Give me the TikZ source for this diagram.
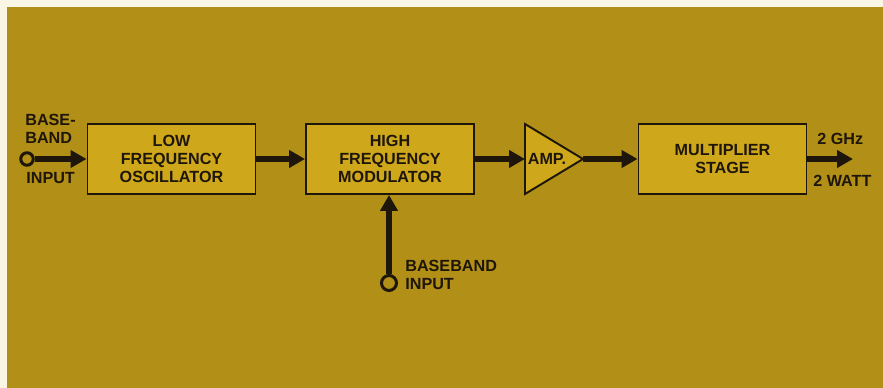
\documentclass[tikz,border=0pt]{standalone}
\usepackage{fontspec}
\setmainfont{Liberation Sans}
\usetikzlibrary{positioning, arrows.meta, calc}
\definecolor{paper}{RGB}{250,246,228}
\definecolor{olive}{RGB}{178,143,22}
\definecolor{boxfill}{RGB}{206,167,26}
\definecolor{ink}{RGB}{30,22,10}
\tikzset{
  stage/.style ={rectangle, draw=ink, line width=1.1pt, fill=boxfill,
                 minimum width=3.36cm, minimum height=1.4cm, inner sep=0pt,
                 font=\fontsize{9.2}{10}\selectfont\bfseries, text=ink, align=center},
  sig/.style   ={-{Triangle[length=0.32cm, width=0.34cm]}, line width=3pt, color=ink},
  port/.style  ={circle, draw=ink, line width=1.7pt, fill=olive,
                 minimum size=0.25cm, inner sep=0pt},
  lbl/.style   ={font=\fontsize{9.2}{10}\selectfont\bfseries, text=ink,
                 align=left, inner sep=0pt},
}
\begin{document}
\begin{tikzpicture}[x=0.02cm, y=0.02cm]
\fill[paper] (0,0) rectangle (883,388);
\fill[olive] (7,0) rectangle (883,381);
% blocks
\node[stage] (lfo) at (171.5,229) {LOW\\FREQUENCY\\OSCILLATOR};
\node[stage] (hfm) at (390,229) {HIGH\\FREQUENCY\\MODULATOR};
\draw[ink, line width=1.1pt, fill=boxfill] (525,264) -- (583,229) -- (525,194) -- cycle;
\coordinate (ampin) at (525,229);
\coordinate (ampout) at (583,229);
\node[lbl] (amp) at (547,229) {AMP.};
\node[stage] (mult) at (722.5,229) {MULTIPLIER\\STAGE};
\coordinate (out) at (853,229);
% inputs
\node[port] (inL) at (27,229) {};
\node[port, minimum size=0.3cm] (inB) at (389,105) {};
\node[lbl, anchor=north west] (bbL) at (25,274) {BASE-\\BAND};
\node[lbl, anchor=north west] (inLlbl) at (26,216) {INPUT};
\node[lbl, anchor=north west] (bbB) at (405,128) {BASEBAND\\INPUT};
% output
\node[lbl, anchor=north west] (ghz) at (817,255) {2 GHz};
\node[lbl, anchor=north west] (watt) at (813,213) {2 WATT};
% signal path
\draw[sig] (inL) -- (lfo);
\draw[sig] (lfo) -- (hfm);
\draw[sig] (hfm) -- (ampin);
\draw[sig] (ampout) -- (mult);
\draw[sig] (mult) -- (out);
\draw[sig] (inB) -- (inB |- hfm.south);
\end{tikzpicture}
\end{document}
